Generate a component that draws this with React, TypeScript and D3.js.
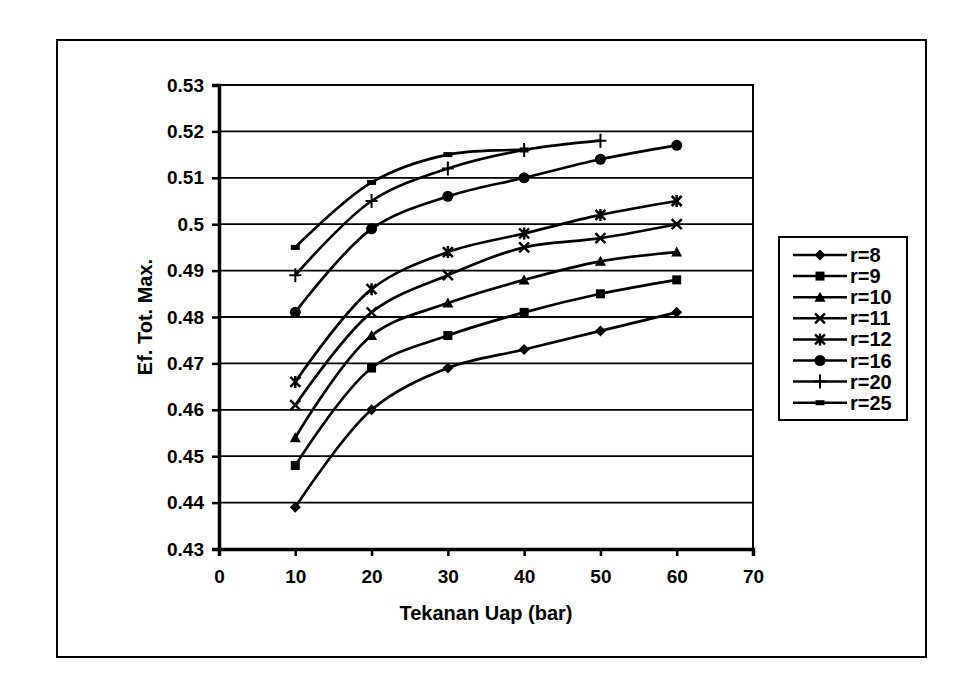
import React, { useEffect, useRef } from 'react';
import * as d3 from 'd3';

// Tekanan uap (bar)
const pressure = [10, 20, 30, 40, 50, 60];

// Efisiensi total maksimum per rasio kompresi
const r8 = [0.439, 0.46, 0.469, 0.473, 0.477, 0.481];
const r9 = [0.448, 0.469, 0.476, 0.481, 0.485, 0.488];
const r10 = [0.454, 0.476, 0.483, 0.488, 0.492, 0.494];
const r11 = [0.461, 0.481, 0.489, 0.495, 0.497, 0.5];
const r12 = [0.466, 0.486, 0.494, 0.498, 0.502, 0.505];
const r16 = [0.481, 0.499, 0.506, 0.51, 0.514, 0.517];
const r20 = [0.489, 0.505, 0.512, 0.516, 0.518];
const r25 = [0.495, 0.509, 0.515, 0.516];

const seriesNames = ['r=8', 'r=9', 'r=10', 'r=11', 'r=12', 'r=16', 'r=20', 'r=25'];
const seriesValues = [r8, r9, r10, r11, r12, r16, r20, r25];
const markerTypes = ['diamond', 'square', 'triangle', 'x', 'star', 'circle', 'plus', 'dash'];

const xTicks = [0, 10, 20, 30, 40, 50, 60, 70];
const yTicks = [0.43, 0.44, 0.45, 0.46, 0.47, 0.48, 0.49, 0.5, 0.51, 0.52, 0.53];

const FONT = '"Liberation Sans", Arial, Helvetica, sans-serif';

function drawMarker(g: any, type: string, cx: number, cy: number) {
  const m = g.append('g').attr('transform', `translate(${cx},${cy})`);
  switch (type) {
    case 'diamond':
      m.append('path').attr('d', 'M0,-5.5L5.5,0L0,5.5L-5.5,0Z').attr('fill', '#000');
      break;
    case 'square':
      m.append('rect').attr('x', -4.5).attr('y', -4.5).attr('width', 9).attr('height', 9).attr('fill', '#000');
      break;
    case 'triangle':
      m.append('path').attr('d', 'M0,-5.5L5.5,4.5L-5.5,4.5Z').attr('fill', '#000');
      break;
    case 'x':
      m.append('path').attr('d', 'M-5,-5L5,5M-5,5L5,-5').attr('stroke', '#000').attr('stroke-width', 2.5);
      break;
    case 'star':
      m.append('path').attr('d', 'M-5,-5L5,5M-5,5L5,-5M0,-6L0,6').attr('stroke', '#000').attr('stroke-width', 2.5);
      break;
    case 'circle':
      m.append('circle').attr('r', 5.5).attr('fill', '#000');
      break;
    case 'plus':
      m.append('path').attr('d', 'M-6,0L6,0M0,-7L0,7').attr('stroke', '#000').attr('stroke-width', 2);
      break;
    case 'dash':
      m.append('rect').attr('x', -4.5).attr('y', -2.5).attr('width', 9).attr('height', 5).attr('fill', '#000');
      break;
  }
}

export default function App() {
  const ref = useRef<SVGSVGElement>(null);

  useEffect(() => {
    if (!ref.current) return;
    const svg = d3.select(ref.current);
    svg.selectAll('*').remove();

    const left = 219, right = 753, top = 85, bottom = 549;

    const x = d3.scaleLinear().domain([0, 70]).range([left, right]);
    const y = d3.scaleLinear().domain([0.43, 0.53]).range([bottom, top]);

    // outer chart frame
    svg.append('rect')
      .attr('x', 57).attr('y', 40).attr('width', 869).attr('height', 617)
      .attr('fill', '#fff').attr('stroke', '#000').attr('stroke-width', 2);

    // gridlines
    svg.append('g')
      .selectAll('line')
      .data(yTicks.slice(1, -1))
      .join('line')
      .attr('x1', left).attr('x2', right)
      .attr('y1', d => y(d)).attr('y2', d => y(d))
      .attr('stroke', '#000').attr('stroke-width', 1.8);

    // plot border (top and right)
    svg.append('path')
      .attr('d', `M${left},${top}L${right},${top}L${right},${bottom}`)
      .attr('fill', 'none').attr('stroke', '#000').attr('stroke-width', 2);

    // y axis
    const yAxis = svg.append('g')
      .attr('transform', `translate(${left},0)`)
      .call(d3.axisLeft(y).tickValues(yTicks).tickSize(7).tickPadding(8)
        .tickFormat(d => d3.format('')(+(+d).toFixed(2))));
    yAxis.select('.domain').attr('stroke-width', 3.5);
    yAxis.selectAll('.tick line').attr('stroke-width', 2.5);
    yAxis.selectAll('text')
      .attr('font-family', FONT).attr('font-weight', 'bold').attr('font-size', 19).attr('fill', '#000');

    // x axis
    const xAxis = svg.append('g')
      .attr('transform', `translate(0,${bottom})`)
      .call(d3.axisBottom(x).tickValues(xTicks).tickSize(7).tickPadding(14));
    xAxis.select('.domain').attr('stroke-width', 3.5);
    xAxis.selectAll('.tick line').attr('stroke-width', 2.5);
    xAxis.selectAll('text')
      .attr('font-family', FONT).attr('font-weight', 'bold').attr('font-size', 19).attr('fill', '#000');

    // axis titles
    svg.append('text')
      .attr('x', (left + right) / 2).attr('y', 620)
      .attr('text-anchor', 'middle')
      .attr('font-family', FONT).attr('font-weight', 'bold').attr('font-size', 20)
      .text('Tekanan Uap (bar)');

    svg.append('text')
      .attr('transform', `translate(152,${(top + bottom) / 2}) rotate(-90)`)
      .attr('text-anchor', 'middle')
      .attr('font-family', FONT).attr('font-weight', 'bold').attr('font-size', 20)
      .text('Ef. Tot. Max.');

    // series
    const line = d3.line<number>()
      .x((d, i) => x(pressure[i]))
      .y(d => y(d))
      .curve(d3.curveCatmullRom.alpha(0.5));

    const series = svg.append('g');
    seriesValues.forEach((vals, si) => {
      series.append('path')
        .attr('d', line(vals))
        .attr('fill', 'none').attr('stroke', '#000').attr('stroke-width', 2.7);
      vals.forEach((v, i) => drawMarker(series, markerTypes[si], x(pressure[i]), y(v)));
    });

    // legend
    const legend = svg.append('g');
    legend.append('rect')
      .attr('x', 779).attr('y', 237).attr('width', 128).attr('height', 183)
      .attr('fill', '#fff').attr('stroke', '#000').attr('stroke-width', 2);
    seriesNames.forEach((name, i) => {
      const ly = 255 + i * 21.1;
      legend.append('line')
        .attr('x1', 793).attr('x2', 847).attr('y1', ly).attr('y2', ly)
        .attr('stroke', '#000').attr('stroke-width', 2.5);
      drawMarker(legend, markerTypes[i], 820, ly);
      legend.append('text')
        .attr('x', 850).attr('y', ly + 7)
        .attr('font-family', FONT).attr('font-weight', 'bold').attr('font-size', 20)
        .text(name);
    });
  }, []);

  return (
    <div style={{ position: 'fixed', left: 0, top: 0 }}>
      <svg ref={ref} width={974} height={698} style={{ display: 'block', background: '#fff' }} />
    </div>
  );
}
